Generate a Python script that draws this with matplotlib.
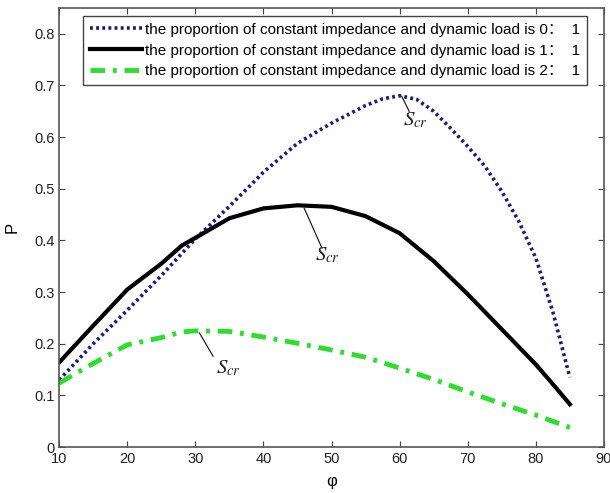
import matplotlib
matplotlib.use("Agg")
import matplotlib.pyplot as plt

plt.rcParams['font.family'] = ['Liberation Sans', 'Noto Sans CJK SC', 'DejaVu Sans']
plt.rcParams['mathtext.fontset'] = 'stix'

# values
phi = [10, 15, 20, 25, 28, 30, 35, 40, 45, 50, 55, 60, 65, 70, 75, 80, 82.5, 85]
phi0 = [10, 15, 20, 25, 30, 35, 40, 45, 50, 55, 57.5, 60, 62.5, 65, 67.5, 70,
        72.5, 75, 77.5, 80, 82.5, 85]
p_ratio0 = [0.130, 0.200, 0.265, 0.332, 0.403, 0.466, 0.532, 0.588, 0.627, 0.661,
            0.674, 0.680, 0.673, 0.650, 0.617, 0.582, 0.544, 0.495, 0.437, 0.366,
            0.262, 0.135]
p_ratio1 = [0.164, 0.235, 0.305, 0.355, 0.390, 0.405, 0.443, 0.462, 0.468, 0.465,
            0.447, 0.414, 0.360, 0.296, 0.228, 0.160, 0.122, 0.083]
p_ratio2 = [0.124, 0.162, 0.198, 0.212, 0.223, 0.225, 0.224, 0.213, 0.201, 0.188,
            0.174, 0.153, 0.131, 0.107, 0.084, 0.062, 0.050, 0.038]
labels = ['the proportion of constant impedance and dynamic load is 0\uff1a  1',
          'the proportion of constant impedance and dynamic load is 1\uff1a  1',
          'the proportion of constant impedance and dynamic load is 2\uff1a  1']

# S_cr markers: (peak point, end of leader line, text position)
scr_points = [((60.3, 0.679), (61.4, 0.650), (62.4, 0.632)),
              ((46.0, 0.462), (48.6, 0.385), (49.4, 0.372)),
              ((30.6, 0.221), (32.6, 0.176), (34.8, 0.153))]

fig = plt.figure(figsize=(6.1, 4.93), dpi=100)
ax = fig.add_axes([0.097, 0.093, 0.893, 0.891])

ax.plot(phi0, p_ratio0, color='#1c1c7a', lw=2.6, linestyle=(0, (0.8, 0.9)), label=labels[0])
ax.plot(phi, p_ratio1, color='black', lw=3, label=labels[1])
ax.plot(phi, p_ratio2, color='#2fdc2f', lw=3.5, linestyle=(0, (3, 1.6, 0.8, 1.6)), label=labels[2])

for peak, end, txt in scr_points:
    ax.plot([peak[0], end[0]], [peak[1], end[1]], color='#222222', lw=0.9)
    ax.text(txt[0], txt[1], r'$S_{cr}$', fontsize=15, ha='center', va='center', color='#222222')

ax.set_xlim(10, 90)
ax.set_ylim(0, 0.85)
ax.set_xticks(range(10, 91, 10))
ax.set_yticks([0, 0.1, 0.2, 0.3, 0.4, 0.5, 0.6, 0.7, 0.8])
ax.set_yticklabels(['0', '0.1', '0.2', '0.3', '0.4', '0.5', '0.6', '0.7', '0.8'])
ax.tick_params(direction='in', top=True, right=True, length=4, labelsize=10.5,
               colors='#444444', labelcolor='#222222')
for s in ax.spines.values():
    s.set_color('#555555')
    s.set_linewidth(1.2)

ax.set_xlabel('\u03c6', fontsize=12, labelpad=6)
ax.set_ylabel('P', fontsize=12, labelpad=10)

leg = ax.legend(loc='upper left', bbox_to_anchor=(0.044, 0.982), fontsize=11,
                handlelength=3.4, handletextpad=0.2, labelspacing=0.45,
                borderpad=0.45, borderaxespad=0, fancybox=False, framealpha=1)
leg.get_frame().set_edgecolor('#444444')
leg.get_frame().set_linewidth(1.0)

fig.savefig('out.png', dpi=100)
